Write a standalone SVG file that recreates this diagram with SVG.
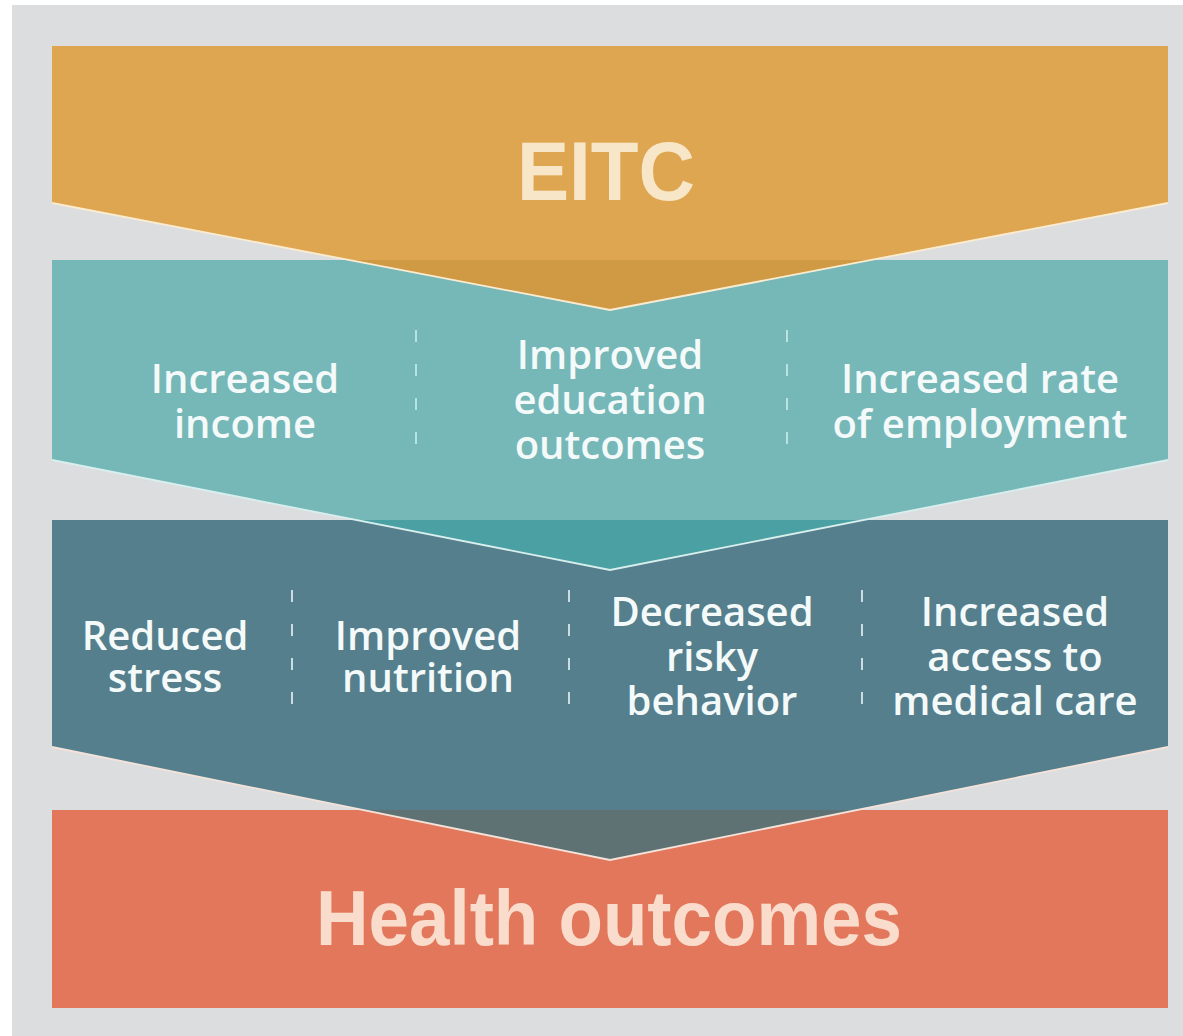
<svg xmlns="http://www.w3.org/2000/svg" width="1183" height="1036" viewBox="0 0 1183 1036">
  <style>
    .lbl { font-family: "Open Sans", "Liberation Sans", sans-serif; font-weight: 600; font-size: 40px; fill: #f4fafa; text-anchor: middle; }
    .big { font-family: "Liberation Sans", Arial, sans-serif; font-weight: bold; text-anchor: middle; }
    .div1 { stroke: #b9e3e3; stroke-width: 2; stroke-dasharray: 12 22; fill: none; }
    .div2 { stroke: #c9dde2; stroke-width: 2; stroke-dasharray: 12 22; fill: none; }
  </style>
  <rect x="0" y="0" width="1183" height="1036" fill="#ffffff"/>
  <rect x="12" y="5" width="1171" height="1031" fill="#dcdddf"/>

  <g id="health-outcomes">
    <rect x="52" y="810" width="1116" height="198" fill="#e2775c"/>
    <text class="big" x="609" y="945" font-size="78" fill="#f9dccb" textLength="586" lengthAdjust="spacingAndGlyphs">Health outcomes</text>
  </g>

  <g id="intermediate-health">
    <polygon points="52,520 1168,520 1168,747 610,860 52,747" fill="#557f8c"/>
    <polygon points="363,810 857,810 610,860" fill="#5f7273"/>
    <polyline points="52,747 610,860 1168,747" fill="none" stroke="#f3e3da" stroke-width="1.8"/>
    <text class="lbl" x="165" y="650">Reduced</text>
    <text class="lbl" x="165" y="692">stress</text>
    <text class="lbl" x="428" y="650">Improved</text>
    <text class="lbl" x="428" y="692">nutrition</text>
    <text class="lbl" x="712" y="626">Decreased</text>
    <text class="lbl" x="712" y="671">risky</text>
    <text class="lbl" x="712" y="715">behavior</text>
    <text class="lbl" x="1015" y="626">Increased</text>
    <text class="lbl" x="1015" y="671">access to</text>
    <text class="lbl" x="1015" y="715">medical care</text>
  </g>

  <g id="intermediate-outcomes">
    <polygon points="52,260 1168,260 1168,460 610,570 52,460" fill="#76b7b8"/>
    <polygon points="356,520 864,520 610,570" fill="#4aa0a2"/>
    <polyline points="52,460 610,570 1168,460" fill="none" stroke="#d8efee" stroke-width="1.8"/>
    <text class="lbl" x="245" y="393">Increased</text>
    <text class="lbl" x="245" y="438">income</text>
    <text class="lbl" x="610" y="369">Improved</text>
    <text class="lbl" x="610" y="414">education</text>
    <text class="lbl" x="610" y="459">outcomes</text>
    <text class="lbl" x="980" y="393">Increased rate</text>
    <text class="lbl" x="980" y="438">of employment</text>
  </g>

  <g id="eitc">
    <polygon points="52,46 1168,46 1168,203 610,310 52,203" fill="#dfa651"/>
    <polygon points="349,260 871,260 610,310" fill="#d09a45"/>
    <polyline points="52,203 610,310 1168,203" fill="none" stroke="#fbecd0" stroke-width="1.8"/>
    <text class="big" x="606" y="200" font-size="84" fill="#f8e6c8" textLength="178" lengthAdjust="spacingAndGlyphs">EITC</text>
  </g>

  <g id="connectors">
    <line class="div1" x1="416" y1="330" x2="416" y2="466"/>
    <line class="div1" x1="787" y1="330" x2="787" y2="466"/>
    <line class="div2" x1="292" y1="590" x2="292" y2="724"/>
    <line class="div2" x1="569" y1="590" x2="569" y2="724"/>
    <line class="div2" x1="862" y1="590" x2="862" y2="724"/>
  </g>
</svg>
